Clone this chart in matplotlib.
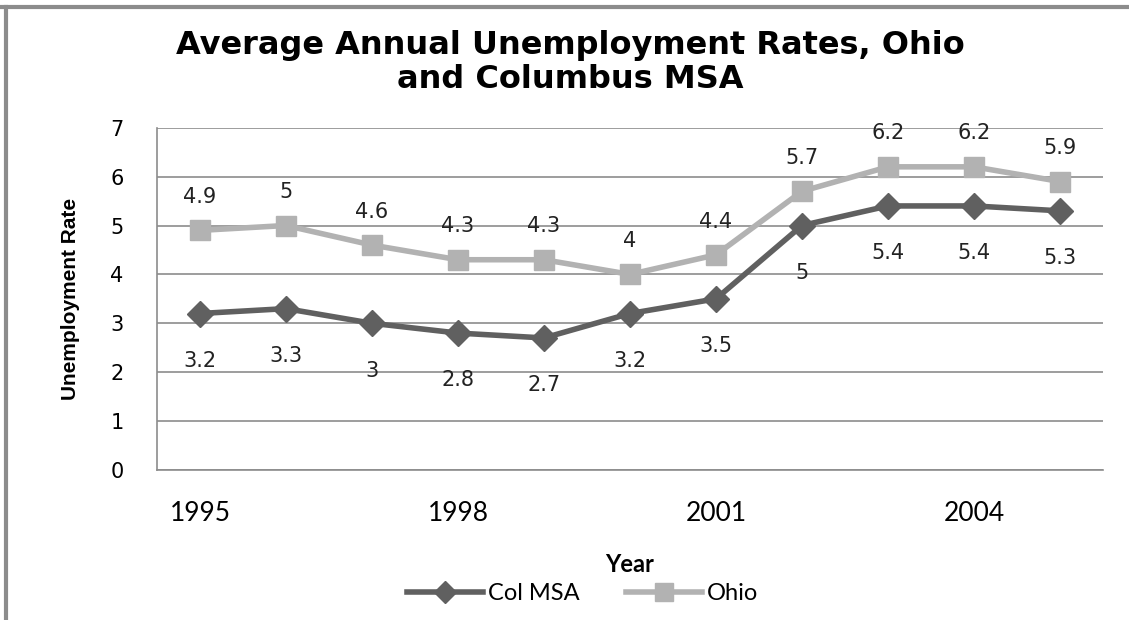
import numpy as np
import matplotlib.pyplot as plt
from matplotlib.lines import Line2D

years = ['1995', '1996', '1997', '1998', '1999', '2000',
         '2001', '2002', '2003', '2004', '2005']
col_msa = [3.2, 3.3, 3.0, 2.8, 2.7, 3.2, 3.5, 5.0, 5.4, 5.4, 5.3]
ohio = [4.9, 5.0, 4.6, 4.3, 4.3, 4.0, 4.4, 5.7, 6.2, 6.2, 5.9]
col_labels = ['3.2', '3.3', '3', '2.8', '2.7', '3.2', '3.5', '5', '5.4', '5.4', '5.3']
ohio_labels = ['4.9', '5', '4.6', '4.3', '4.3', '4', '4.4', '5.7', '6.2', '6.2', '5.9']

dark = '#606060'
light = '#b2b2b2'

fig = plt.figure(figsize=(11.29, 6.2), dpi=100)
ax = fig.add_axes([0.139, 0.242, 0.838, 0.552])

x = np.arange(len(years))
ax.plot(x, col_msa, color=dark, lw=4, marker='D', ms=13, label='Col MSA')
ax.plot(x, ohio, color=light, lw=4, marker='s', ms=15, label='Ohio')

for i in x:
    ax.annotate(ohio_labels[i], (i, ohio[i]), xytext=(0, 24), textcoords='offset points',
                ha='center', va='center', fontsize=15, color='#222222')
    ax.annotate(col_labels[i], (i, col_msa[i]), xytext=(0, -34), textcoords='offset points',
                ha='center', va='center', fontsize=15, color='#222222')

ax.set_xlim(-0.5, len(years) - 0.5)
ax.set_ylim(0, 7)
ax.set_yticks(range(8))
ax.set_xticks(x[::3])
ax.set_xticklabels(years[::3], fontfamily='Lato', fontsize=19)
ax.tick_params(axis='x', length=0, pad=22)
ax.tick_params(axis='y', length=0, pad=24, labelsize=15)
ax.grid(True, axis='y', color='#8c8c8c', lw=1.2)
ax.set_axisbelow(True)
for s in ['top', 'right']:
    ax.spines[s].set_visible(False)
for s in ['left', 'bottom']:
    ax.spines[s].set_color('#8c8c8c')
    ax.spines[s].set_linewidth(1.2)

ax.set_ylabel('Unemployment Rate', fontfamily='Liberation Sans', fontweight='bold',
              fontsize=15, labelpad=22)
ax.set_xlabel('Year', fontfamily='Lato', fontweight='bold', fontsize=17, labelpad=20)

fig.suptitle('Average Annual Unemployment Rates, Ohio\nand Columbus MSA',
             x=0.505, y=0.952, fontfamily='DejaVu Sans', fontweight='bold',
             fontsize=23, linespacing=1.12)

fig.legend(loc='center', bbox_to_anchor=(0.516, 0.042), ncol=2, frameon=False,
           prop={'family': 'Lato', 'size': 17}, handlelength=3.2, handletextpad=0.2,
           columnspacing=2.0, markerscale=0.85)

# outer chart frame (top and left edges visible)
fig.add_artist(Line2D([0, 1], [0.988, 0.988], color='#8c8c8c', lw=3, transform=fig.transFigure))
fig.add_artist(Line2D([0.0053, 0.0053], [0, 0.988], color='#8c8c8c', lw=3, transform=fig.transFigure))

fig.savefig('out.png')
